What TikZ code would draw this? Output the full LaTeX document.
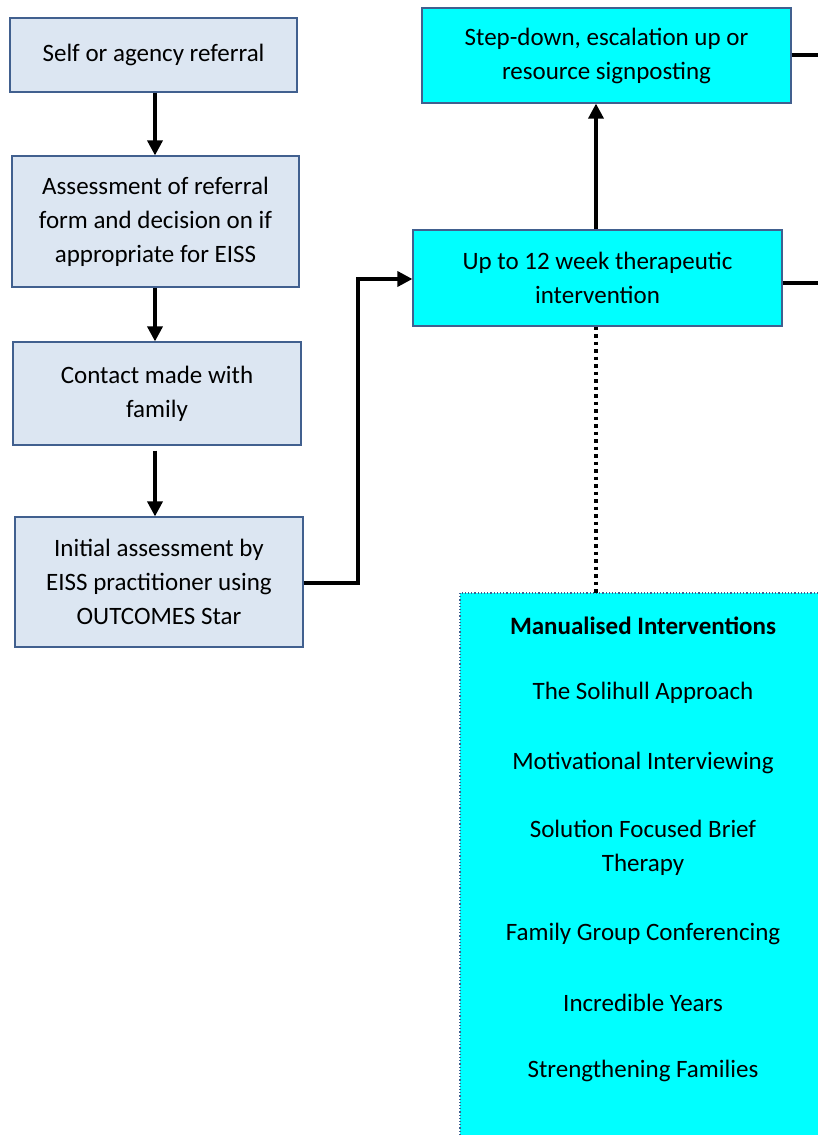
\documentclass[tikz,border=0pt]{standalone}
\usepackage{fontspec}
\setmainfont{Carlito}
\usetikzlibrary{arrows.meta,calc}
\definecolor{lightbox}{HTML}{DCE6F2}
\definecolor{boxborder}{HTML}{41608F}
\definecolor{cyanbox}{HTML}{00FFFF}
\begin{document}
\begin{tikzpicture}[x=1pt,y=-1pt,
  txt/.style={font=\fontsize{25}{34}\selectfont, align=center},
  lbox/.style={draw=boxborder, line width=1.2pt, fill=lightbox, txt, inner sep=0pt},
  cbox/.style={draw=boxborder, line width=1.2pt, fill=cyanbox, txt, inner sep=0pt},
  arr/.style={line width=3.5pt, -{Triangle[width=15pt,length=15pt]}},
  conn/.style={line width=3.5pt},
  dotconn/.style={line width=3.5pt, dash pattern=on 3.5pt off 4pt}
]
\useasboundingbox (0,0) rectangle (817,1135);
\fill[white] (0,0) rectangle (817,1135);

\node[lbox, minimum width=287pt, minimum height=74pt] (b1) at (153.5,55) {Self or agency referral};
\node[lbox, minimum width=287pt, minimum height=131pt] (b2) at (155.5,221.5) {Assessment of referral\\form and decision on if\\appropriate for EISS};
\node[lbox, minimum width=288pt, minimum height=103pt] (b3) at (157,393.5) {Contact made with\\family};
\node[lbox, minimum width=288pt, minimum height=130pt] (b4) at (159,582) {Initial assessment by\\EISS practitioner using\\OUTCOMES Star};

\node[cbox, minimum width=369pt, minimum height=96pt] (int) at (597.5,278) {Up to 12 week therapeutic\\intervention};
\node[cbox, minimum width=369pt, minimum height=95pt] (step) at (606.5,55.5) {Step-down, escalation up or\\resource signposting};

\path[draw=boxborder, line width=1.2pt, dotted, fill=cyanbox] (460,593) rectangle (840,1160);
\coordinate (mantop) at (596,593);

\node[txt, font=\fontsize{25}{34}\selectfont\bfseries] (t0) at (643,626) {Manualised Interventions};
\node[txt] (t1) at (643,693) {The Solihull Approach};
\node[txt] (t2) at (643,763) {Motivational Interviewing};
\node[txt] (t3) at (643,848) {Solution Focused Brief\\Therapy};
\node[txt] (t4) at (643,934) {Family Group Conferencing};
\node[txt] (t5) at (643,1003) {Incredible Years};
\node[txt] (t6) at (643,1071) {Strengthening Families};

\draw[arr] (b1.south -| 155,0) -- (b2.north -| 155,0);
\draw[arr] (b2.south -| 155,0) -- (b3.north -| 155,0);
\draw[arr, shorten <=5pt] (b3.south -| 155,0) -- (b4.north -| 155,0);
\draw[arr] (b4.east |- 0,583) -| (358,279) -- (int.west |- 0,279);
\draw[arr] (int.north -| 596,0) -- (step.south -| 596,0);
\coordinate (r1) at (830,55);
\coordinate (r2) at (830,283);
\draw[conn] (step.east |- r1) -- (r1);
\draw[conn] (int.east |- r2) -- (r2);
\draw[dotconn] (int.south -| mantop) -- (mantop);
\end{tikzpicture}
\end{document}
